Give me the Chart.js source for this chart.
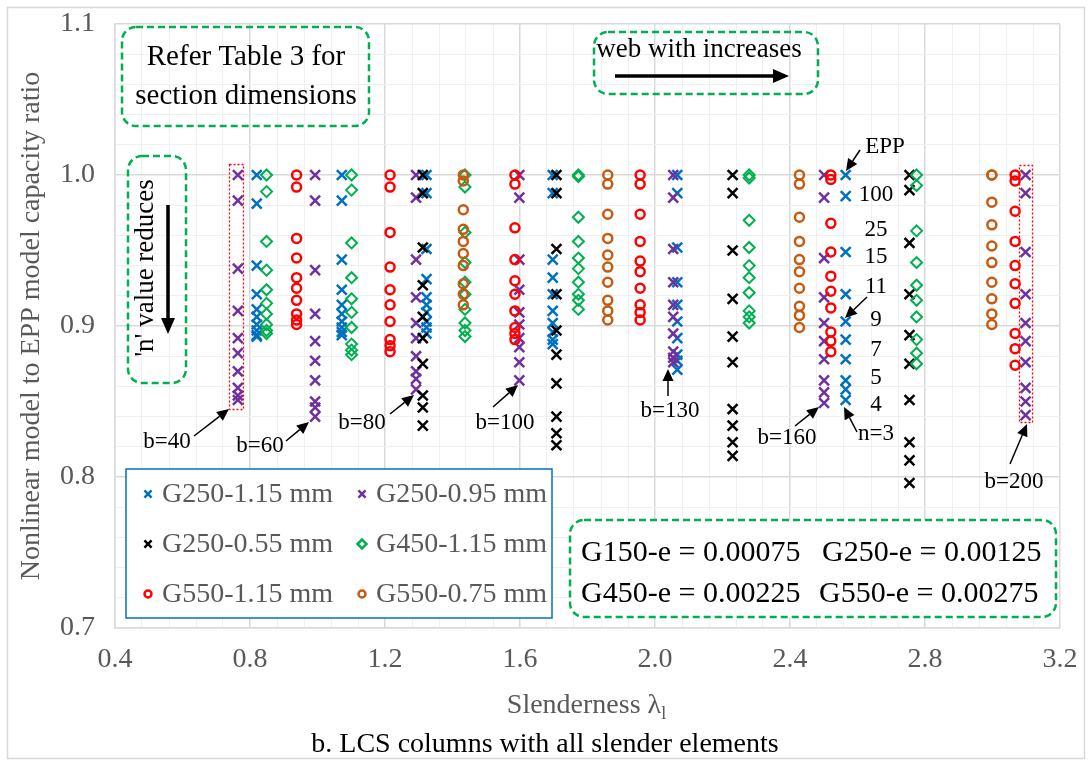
<!DOCTYPE html>
<html>
<head>
<meta charset="utf-8">
<script src="https://cdn.jsdelivr.net/npm/chart.js@4.4.1/dist/chart.umd.min.js"></script>
<style>
  html, body { margin: 0; padding: 0; background: #fff; }
</style>
</head>
<body>
<canvas id="chart" width="1091" height="765"></canvas>
<script>
var SERIF = "'Liberation Serif', 'Times New Roman', serif";

// each column is one flange width b; ratios run EPP, n=100, 25, 15, 11, 9, 7, 5, 4, 3
var g250_115_lambda = [0.820, 1.072, 1.323, 1.697, 2.066, 2.565];
var g250_115_ratio = [
    [1.000, 0.981, 0.940, 0.921, 0.911, 0.906, 0.901, 0.897, 0.894, 0.893],
    [1.000, 0.983, 0.944, 0.924, 0.914, 0.908, 0.903, 0.899, 0.896, 0.894],
    [1.000, 0.988, 0.951, 0.931, 0.919, 0.914, 0.909, 0.903, 0.899, 0.895],
    [1.000, 0.988, 0.944, 0.932, 0.921, 0.910, 0.902, 0.896, 0.891, 0.888],
    [1.000, 0.988, 0.952, 0.929, 0.914, 0.903, 0.892, 0.881, 0.877, 0.871],
    [1.000, 0.986, 0.949, 0.921, 0.903, 0.891, 0.878, 0.864, 0.858, 0.851]
];
var g250_095_lambda = [0.764, 0.993, 1.292, 1.598, 2.054, 2.501, 3.098];
var g250_095_ratio = [
    [1.000, 0.983, 0.938, 0.910, 0.892, 0.882, 0.870, 0.859, 0.854, 0.851],
    [1.000, 0.983, 0.937, 0.908, 0.890, 0.877, 0.864, 0.850, 0.846, 0.840],
    [1.000, 0.985, 0.944, 0.919, 0.902, 0.892, 0.880, 0.870, 0.865, 0.858],
    [1.000, 0.985, 0.944, 0.924, 0.909, 0.901, 0.892, 0.886, 0.876, 0.864],
    [1.000, 0.985, 0.951, 0.929, 0.914, 0.906, 0.895, 0.883, 0.879, 0.876],
    [1.000, 0.985, 0.945, 0.919, 0.902, 0.890, 0.878, 0.864, 0.856, 0.849],
    [1.000, 0.988, 0.949, 0.921, 0.902, 0.890, 0.876, 0.859, 0.850, 0.841]
];
var g250_055_lambda = [1.312, 1.708, 2.230, 2.754];
var g250_055_ratio = [
    [1.000, 0.988, 0.952, 0.927, 0.906, 0.892, 0.875, 0.854, 0.846, 0.834],
    [1.000, 0.988, 0.951, 0.921, 0.897, 0.881, 0.862, 0.840, 0.829, 0.821],
    [1.000, 0.988, 0.950, 0.918, 0.893, 0.876, 0.845, 0.834, 0.823, 0.814],
    [1.000, 0.990, 0.955, 0.921, 0.894, 0.875, 0.851, 0.823, 0.811, 0.796]
];
var g450_115_lambda = [0.849, 1.101, 1.437, 1.773, 2.279, 2.775];
var g450_115_ratio = [
    [1.000, 0.989, 0.956, 0.937, 0.924, 0.915, 0.908, 0.901, 0.897, 0.895],
    [1.000, 0.990, 0.955, 0.932, 0.918, 0.909, 0.899, 0.888, 0.884, 0.881],
    [1.000, 0.992, 0.962, 0.942, 0.929, 0.921, 0.911, 0.902, 0.897, 0.893],
    [1.000, 0.999, 0.972, 0.956, 0.945, 0.938, 0.929, 0.921, 0.917, 0.911],
    [1.000, 0.998, 0.970, 0.952, 0.940, 0.932, 0.922, 0.910, 0.906, 0.902],
    [1.000, 0.993, 0.963, 0.942, 0.927, 0.917, 0.906, 0.891, 0.882, 0.875]
];
var g550_115_lambda = [0.938, 1.215, 1.585, 1.956, 2.521, 3.067];
var g550_115_ratio = [
    [1.000, 0.992, 0.958, 0.945, 0.932, 0.925, 0.917, 0.908, 0.904, 0.901],
    [1.000, 0.992, 0.962, 0.939, 0.924, 0.914, 0.903, 0.891, 0.887, 0.883],
    [1.000, 0.994, 0.965, 0.944, 0.930, 0.921, 0.910, 0.899, 0.895, 0.891],
    [1.000, 0.994, 0.974, 0.956, 0.943, 0.936, 0.925, 0.914, 0.909, 0.904],
    [1.000, 0.997, 0.968, 0.949, 0.933, 0.923, 0.912, 0.896, 0.890, 0.883],
    [1.000, 0.996, 0.976, 0.956, 0.940, 0.928, 0.915, 0.895, 0.885, 0.874]
];
var g550_075_lambda = [1.432, 1.860, 2.428, 2.998];
var g550_075_ratio = [
    [1.000, 0.996, 0.977, 0.964, 0.956, 0.948, 0.940, 0.928, 0.921, 0.914],
    [1.000, 0.994, 0.974, 0.958, 0.947, 0.939, 0.929, 0.917, 0.910, 0.904],
    [1.000, 0.994, 0.972, 0.956, 0.944, 0.936, 0.925, 0.913, 0.907, 0.899],
    [1.000, 1.000, 0.982, 0.967, 0.953, 0.942, 0.929, 0.918, 0.908, 0.901]
];

var seriesNames = ["G250-1.15 mm", "G250-0.95 mm", "G250-0.55 mm", "G450-1.15 mm", "G550-1.15 mm", "G550-0.75 mm"];
var seriesColors = ["#0070c0", "#7030a0", "#000000", "#00b050", "#ff0000", "#c55a11"];
var seriesMarkers = ["crossRot", "crossRot", "crossRot", "rectRot", "circle", "circle"];
var xMajorTicks = [0.4, 0.8, 1.2, 1.6, 2.0, 2.4, 2.8, 3.2];
var yMajorTicks = [0.7, 0.8, 0.9, 1.0, 1.1];

function toPoints(lambdas, ratios) {
    var pts = [];
    for (var i = 0; i < lambdas.length; i++) {
        for (var j = 0; j < ratios[i].length; j++) {
            pts.push({x: lambdas[i], y: ratios[i][j]});
        }
    }
    return pts;
}

var allData = [
    toPoints(g250_115_lambda, g250_115_ratio),
    toPoints(g250_095_lambda, g250_095_ratio),
    toPoints(g250_055_lambda, g250_055_ratio),
    toPoints(g450_115_lambda, g450_115_ratio),
    toPoints(g550_115_lambda, g550_115_ratio),
    toPoints(g550_075_lambda, g550_075_ratio)
];

function markerRadius(style) {
    if (style == "crossRot") return 7;
    if (style == "rectRot") return 5.5;
    return 4.5;
}

var datasets = [];
for (var s = 0; s < seriesNames.length; s++) {
    datasets.push({
        label: seriesNames[s],
        data: allData[s],
        order: seriesNames.length - s,
        showLine: false,
        pointStyle: seriesMarkers[s],
        pointRadius: markerRadius(seriesMarkers[s]),
        pointHoverRadius: markerRadius(seriesMarkers[s]),
        pointBorderColor: seriesColors[s],
        pointBackgroundColor: "rgba(255,255,255,0)",
        pointBorderWidth: seriesMarkers[s] == "rectRot" ? 2 : 2.5
    });
}

function isMajor(list, v) {
    for (var i = 0; i < list.length; i++) {
        if (Math.abs(list[i] - v) < 1e-6) return true;
    }
    return false;
}

function arrow(ctx, x1, y1, x2, y2, lw, hl, hw) {
    var a = Math.atan2(y2 - y1, x2 - x1);
    var bx = x2 - hl * Math.cos(a), by = y2 - hl * Math.sin(a);
    ctx.lineWidth = lw;
    ctx.beginPath(); ctx.moveTo(x1, y1); ctx.lineTo(bx, by); ctx.stroke();
    ctx.beginPath();
    ctx.moveTo(x2, y2);
    ctx.lineTo(bx + hw / 2 * Math.sin(a), by - hw / 2 * Math.cos(a));
    ctx.lineTo(bx - hw / 2 * Math.sin(a), by + hw / 2 * Math.cos(a));
    ctx.closePath(); ctx.fill();
}

function dashedBox(ctx, x, y, w, h) {
    ctx.save();
    ctx.strokeStyle = "#00b050";
    ctx.lineWidth = 2.5;
    ctx.setLineDash([7, 4]);
    ctx.beginPath();
    ctx.roundRect(x, y, w, h, 14);
    ctx.stroke();
    ctx.restore();
}

var decorations = {
    id: "decorations",
    afterDraw: function(chart) {
        var ctx = chart.ctx;
        ctx.save();

        // outer chart border
        ctx.strokeStyle = "#d9d9d9";
        ctx.lineWidth = 1.5;
        ctx.strokeRect(7.5, 7.5, 1077, 751);

        ctx.fillStyle = "#000";
        ctx.strokeStyle = "#000";
        ctx.textAlign = "center";
        ctx.textBaseline = "middle";

        // "Refer Table 3" note
        dashedBox(ctx, 122, 27, 247, 99);
        ctx.font = "29px " + SERIF;
        ctx.fillText("Refer Table 3 for", 246, 57);
        ctx.fillText("section dimensions", 246, 96);

        // web width note
        dashedBox(ctx, 594, 32, 224, 62);
        ctx.font = "27px " + SERIF;
        ctx.fillText("web with increases", 699, 50);
        arrow(ctx, 615, 76, 789, 76, 3.5, 16, 14);

        // n value note
        dashedBox(ctx, 128, 156, 58, 227);
        ctx.save();
        ctx.translate(146, 268);
        ctx.rotate(-Math.PI / 2);
        ctx.fillText("'n' value reduces", 0, 0);
        ctx.restore();
        arrow(ctx, 168, 205, 168, 334, 3.5, 16, 14);

        // dotted frames around b=40 and b=200 columns
        ctx.save();
        ctx.strokeStyle = "#ff0000";
        ctx.lineWidth = 1.3;
        ctx.setLineDash([2, 2]);
        ctx.strokeRect(229.5, 164.5, 14, 245);
        ctx.strokeRect(1019.5, 165.5, 13, 257);
        ctx.restore();

        // b labels with arrows
        ctx.font = "23px " + SERIF;
        var bLabels = [
            ["b=40", 167, 442, 194, 436, 229, 409],
            ["b=60", 260, 446, 286, 441, 309, 422],
            ["b=80", 362, 423, 390, 414, 414, 395],
            ["b=100", 505, 423, 493, 407, 518, 385],
            ["b=130", 670, 411, 668, 396, 668, 369],
            ["b=160", 787, 438, 795, 426, 819, 407],
            ["n=3", 876, 434, 857, 432, 844, 407],
            ["b=200", 1014, 482, 1010, 464, 1027, 424],
            ["EPP", 885, 147, 860, 150, 846, 171]
        ];
        bLabels.forEach(function(l) {
            ctx.fillText(l[0], l[1], l[2]);
            arrow(ctx, l[3], l[4], l[5], l[6], 1.5, 12, 11);
        });

        // n values next to b=160 column
        var nText = ["100", "25", "15", "11", "9", "7", "5", "4"];
        var nY = [195, 230, 257, 287, 320, 350, 378, 405];
        for (var i = 0; i < nText.length; i++) {
            ctx.fillText(nText[i], 876, nY[i]);
        }
        arrow(ctx, 867, 297, 845, 318, 1.5, 12, 11);

        // legend
        ctx.fillStyle = "#fff";
        ctx.fillRect(126, 469, 426, 149);
        ctx.strokeStyle = "#0070c0";
        ctx.lineWidth = 1.5;
        ctx.strokeRect(126, 469, 426, 149);
        ctx.font = "28px " + SERIF;
        ctx.textAlign = "left";
        var colX = [148, 362], rowY = [494, 544, 594];
        for (var k = 0; k < seriesNames.length; k++) {
            var mx = colX[k % 2], my = rowY[Math.floor(k / 2)];
            ctx.strokeStyle = seriesColors[k];
            ctx.fillStyle = "#fff";
            ctx.lineWidth = 2.5;
            var st = seriesMarkers[k];
            Chart.helpers.drawPoint(ctx, {
                pointStyle: st,
                rotation: 0,
                radius: st == "crossRot" ? 5 : (st == "rectRot" ? 4.5 : 3.5),
                borderWidth: 2.5
            }, mx, my);
            ctx.fillStyle = "#595959";
            ctx.fillText(seriesNames[k], mx + 14, my + 1);
        }

        // yield strain note
        ctx.fillStyle = "#fff";
        ctx.beginPath(); ctx.roundRect(570, 520, 486, 97, 14); ctx.fill();
        dashedBox(ctx, 570, 520, 486, 97);
        ctx.fillStyle = "#000";
        ctx.font = "30px " + SERIF;
        ctx.textAlign = "left";
        ctx.fillText("G150-e = 0.00075", 581, 553);
        ctx.fillText("G250-e = 0.00125", 822, 553);
        ctx.fillText("G450-e = 0.00225", 581, 594);
        ctx.fillText("G550-e = 0.00275", 819, 594);

        // x axis title with subscript
        ctx.fillStyle = "#595959";
        ctx.textAlign = "left";
        ctx.font = "28px " + SERIF;
        var main = "Slenderness \u03bb";
        var w = ctx.measureText(main).width;
        var x0 = (chart.chartArea.left + chart.chartArea.right) / 2 - (w + 7) / 2;
        ctx.fillText(main, x0, 706);
        ctx.font = "18px " + SERIF;
        ctx.fillText("l", x0 + w, 714);

        // caption
        ctx.fillStyle = "#000";
        ctx.textAlign = "center";
        ctx.font = "28px " + SERIF;
        ctx.fillText("b. LCS columns with all slender elements", 545, 745);

        ctx.restore();
    }
};

var chart = new Chart(document.getElementById("chart"), {
    type: "scatter",
    data: { datasets: datasets },
    options: {
        responsive: false,
        animation: false,
        layout: { padding: { left: 0, top: 24, right: 31, bottom: 43 } },
        plugins: {
            legend: { display: false },
            tooltip: { enabled: false }
        },
        scales: {
            x: {
                type: "linear",
                min: 0.4,
                max: 3.2,
                afterFit: function(scale) {
                    scale.height = 94;
                    scale.paddingLeft = 0;
                    scale.paddingRight = 0;
                },
                border: { color: "#d9d9d9", width: 1.5 },
                grid: {
                    drawTicks: false,
                    color: function(c) { return isMajor(xMajorTicks, c.tick.value) ? "#d9d9d9" : "#f0f0f0"; },
                    lineWidth: function(c) { return isMajor(xMajorTicks, c.tick.value) ? 1.5 : 1; }
                },
                ticks: {
                    stepSize: 0.08,
                    autoSkip: false,
                    maxRotation: 0,
                    padding: 15,
                    color: "#595959",
                    font: { family: SERIF, size: 28 },
                    callback: function(v) { return isMajor(xMajorTicks, v) ? v.toFixed(1) : ""; }
                }
            },
            y: {
                type: "linear",
                min: 0.7,
                max: 1.1,
                afterFit: function(scale) {
                    scale.width = 115;
                    scale.paddingTop = 0;
                    scale.paddingBottom = 0;
                },
                border: { color: "#d9d9d9", width: 1.5 },
                grid: {
                    drawTicks: false,
                    color: function(c) { return isMajor(yMajorTicks, c.tick.value) ? "#d9d9d9" : "#f0f0f0"; },
                    lineWidth: function(c) { return isMajor(yMajorTicks, c.tick.value) ? 1.5 : 1; }
                },
                ticks: {
                    stepSize: 0.02,
                    autoSkip: false,
                    padding: 20,
                    color: "#595959",
                    font: { family: SERIF, size: 28 },
                    callback: function(v) { return isMajor(yMajorTicks, v) ? v.toFixed(1) : ""; }
                },
                title: {
                    display: true,
                    text: "Nonlinear model to EPP model capacity ratio",
                    color: "#595959",
                    font: { family: SERIF, size: 28 },
                    padding: { top: 15, bottom: 0 }
                }
            }
        }
    },
    plugins: [decorations]
});
</script>
</body>
</html>
